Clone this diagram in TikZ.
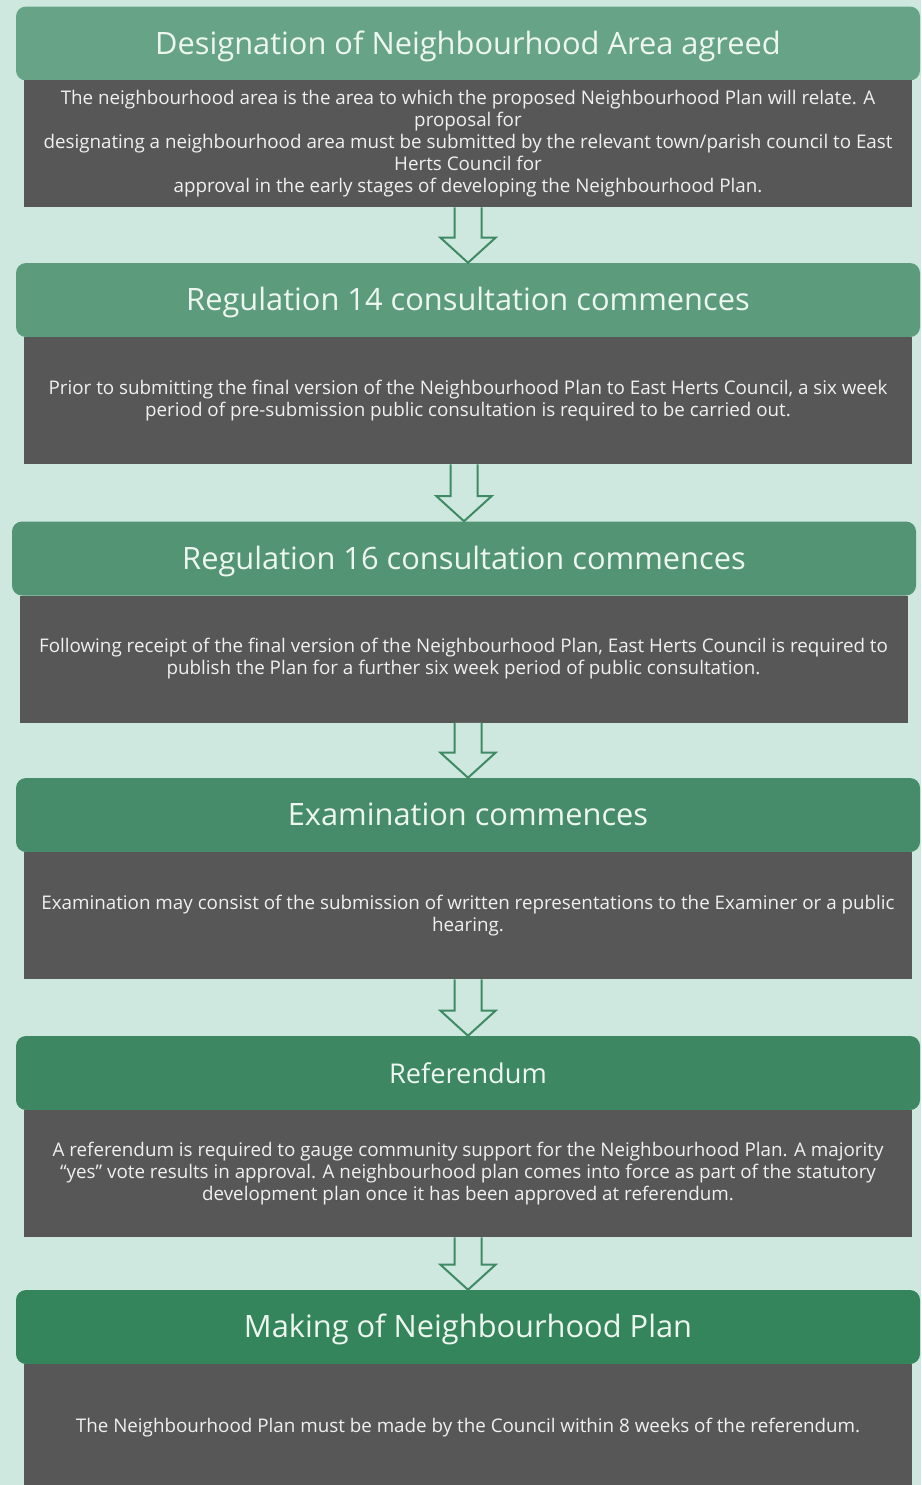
\documentclass[tikz,border=0pt]{standalone}
\usepackage{fontspec}
\setmainfont{Open Sans}
\usepackage{tikz}
\usetikzlibrary{calc}

\definecolor{pagebg}{RGB}{207,232,223}
\definecolor{bodygrey}{RGB}{87,87,87}
\definecolor{arrowgreen}{RGB}{62,138,101}
\definecolor{hdA}{RGB}{103,164,135}
\definecolor{hdB}{RGB}{92,156,124}
\definecolor{hdC}{RGB}{82,148,116}
\definecolor{hdD}{RGB}{71,140,106}
\definecolor{hdE}{RGB}{61,135,99}
\definecolor{hdF}{RGB}{53,133,92}
\definecolor{hdtext}{RGB}{238,246,240}

\tikzset{
  header/.style={rounded corners=7.5, inner sep=0pt, minimum width=678pt, minimum height=55.5pt,
    text height=17pt, text depth=1pt, text=hdtext, font=\fontsize{23.1}{27}\selectfont},
  bodybox/.style={fill=bodygrey, inner sep=0pt, minimum width=666pt, minimum height=95.25pt,
    text=white!94!black, align=center, font=\fontsize{14.1}{16.5}\selectfont},
  hollow/.style={draw=arrowgreen, fill=pagebg, line width=1.5pt, line join=miter}
}

% hollow down arrow from the bottom of one box to the top of the next
\newcommand{\flowarrow}[2]{%
  \draw[hollow] ($(#1.south -| #2.north)+(-13.5,0)$) -- ($(#2.north)+(-13.5,-25)$) -- ($(#2.north)+(-27.5,-25)$)
    -- (#2.north) -- ($(#2.north)+(27.5,-25)$) -- ($(#2.north)+(13.5,-25)$) -- ($(#1.south -| #2.north)+(13.5,0)$);}

\begin{document}
\begin{tikzpicture}[x=0.75pt,y=0.75pt,yscale=-1,xscale=1]
%set diagram left start at 0, and has height of 1485
\fill[pagebg] (0,0) rectangle (921,1485);
\useasboundingbox (0,0) rectangle (921,1485);

% Headers
\node[header, fill=hdA] (hd1) at (468,43.5) {Designation of Neighbourhood Area agreed};
\node[header, fill=hdB] (hd2) at (468,300) {Regulation 14 consultation commences};
\node[header, fill=hdC] (hd3) at (464,558.5) {Regulation 16 consultation commences};
\node[header, fill=hdD] (hd4) at (468,815) {Examination commences};
\node[header, fill=hdE, font=\fontsize{20.4}{24}\selectfont] (hd5) at (468,1073) {Referendum};
\node[header, fill=hdF] (hd6) at (468,1327) {Making of Neighbourhood Plan};

% Text boxes
\node[bodybox] (bd1) at (468,143.5) {The neighbourhood area is the area to which the proposed Neighbourhood Plan will relate. A\\
proposal for\\
designating a neighbourhood area must be submitted by the relevant town/parish council to East\\
Herts Council for\\
approval in the early stages of developing the Neighbourhood Plan.};
\node[bodybox] (bd2) at (468,400.5) {Prior to submitting the final version of the Neighbourhood Plan to East Herts Council, a six week\\
period of pre-submission public consultation is required to be carried out.};
\node[bodybox] (bd3) at (463.5,659) {Following receipt of the final version of the Neighbourhood Plan, East Herts Council is required to\\
publish the Plan for a further six week period of public consultation.};
\node[bodybox] (bd4) at (468,915.5) {Examination may consist of the submission of written representations to the Examiner or a public\\
hearing.};
\node[bodybox] (bd5) at (468,1173.5) {A referendum is required to gauge community support for the Neighbourhood Plan. A majority\\
“yes” vote results in approval. A neighbourhood plan comes into force as part of the statutory\\
development plan once it has been approved at referendum.};
\node[bodybox] (bd6) at (468,1427.5) {The Neighbourhood Plan must be made by the Council within 8 weeks of the referendum.};

% Connections
\flowarrow{bd1}{hd2}
\flowarrow{bd2}{hd3}
\flowarrow{bd3}{hd4}
\flowarrow{bd4}{hd5}
\flowarrow{bd5}{hd6}

\end{tikzpicture}
\end{document}
